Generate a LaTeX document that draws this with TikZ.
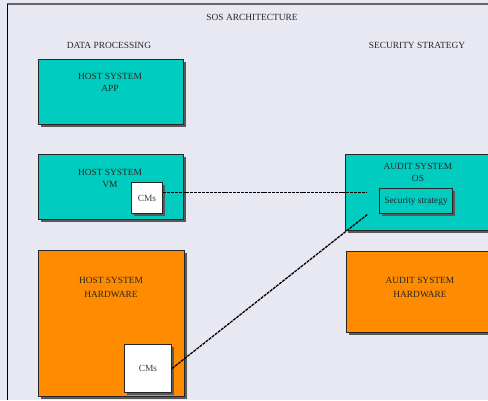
\documentclass[tikz,border=0pt]{standalone}
\usepackage{fontspec}
\setmainfont{Liberation Serif}
\usetikzlibrary{shadows}
\definecolor{bg}{HTML}{E8E8F2}
\definecolor{tealc}{HTML}{00CCC0}
\definecolor{orangec}{HTML}{FF8C00}
\definecolor{txt}{HTML}{262626}
\begin{document}
\begin{tikzpicture}[x=1pt,y=-1pt,
  font=\fontsize{9.4}{12}\selectfont,
  shbox/.style={draw=black!85, line width=1pt, inner sep=0pt, anchor=north west,
    drop shadow={shadow xshift=2pt, shadow yshift=-2pt, fill=black!65, opacity=1}},
  lbl/.style={text=txt, align=center, inner sep=0pt},
  conn/.style={line width=1.3pt, dash pattern=on 3pt off 0.9pt}]
\clip (0,0) rectangle (488,400);
\fill[bg] (0,0) rectangle (488,400);
\coordinate (ftl) at (7,4);
\coordinate (ftr) at (488,4);
\coordinate (fbl) at (7,400);
\draw[black!60, line width=1.8pt] (ftl) -- (ftr);
\draw[black, line width=1pt] (ftl) -- (fbl);
\node[lbl] (title) at (252,17) {SOS ARCHITECTURE};
\node[lbl] (dp) at (109,45) {DATA PROCESSING};
\node[lbl] (ss) at (417,45) {SECURITY STRATEGY};
% host app
\node[shbox, fill=tealc, minimum width=145pt, minimum height=65pt] (app) at (38,59) {};
\node[lbl] (appt) at (110,82) {HOST SYSTEM\\APP};
% host vm
\node[shbox, fill=tealc, minimum width=145pt, minimum height=65pt] (vm) at (38,154) {};
\node[lbl] (vmt) at (110,178) {HOST SYSTEM\\VM};
\node[shbox, fill=white, minimum width=31pt, minimum height=31pt] (vmcms) at (131,182) {};
\node[lbl, text=black!75] (vmcmst) at (vmcms.center) {CMs};
% host hardware
\node[shbox, fill=orangec, minimum width=146pt, minimum height=146pt] (hw) at (38,250) {};
\node[lbl] (hwt) at (111,287) {HOST SYSTEM\\[2pt]HARDWARE};
\node[shbox, fill=white, minimum width=47pt, minimum height=48pt] (hwcms) at (124,344) {};
\node[lbl, text=black!75] (hwcmst) at (hwcms.center) {CMs};
% audit os
\node[shbox, fill=tealc, minimum width=150pt, minimum height=76pt] (os) at (345,154) {};
\node[lbl] (ost) at (418,172) {AUDIT SYSTEM\\OS};
\node[shbox, fill=tealc, minimum width=73pt, minimum height=25pt] (sec) at (379,188) {};
\node[lbl] (sect) at (sec.center) {Security strategy};
% audit hardware
\node[shbox, fill=orangec, minimum width=150pt, minimum height=81pt] (ahw) at (346,251) {};
\node[lbl] (ahwt) at (420,287) {AUDIT SYSTEM\\[2pt]HARDWARE};
% connectors
\coordinate (e1) at (367,192.5);
\coordinate (e2) at (368,214);
\draw[conn] (vmcms.east |- e1) -- (e1);
\draw[conn] (hwcms.east) -- (e2);
\end{tikzpicture}
\end{document}
